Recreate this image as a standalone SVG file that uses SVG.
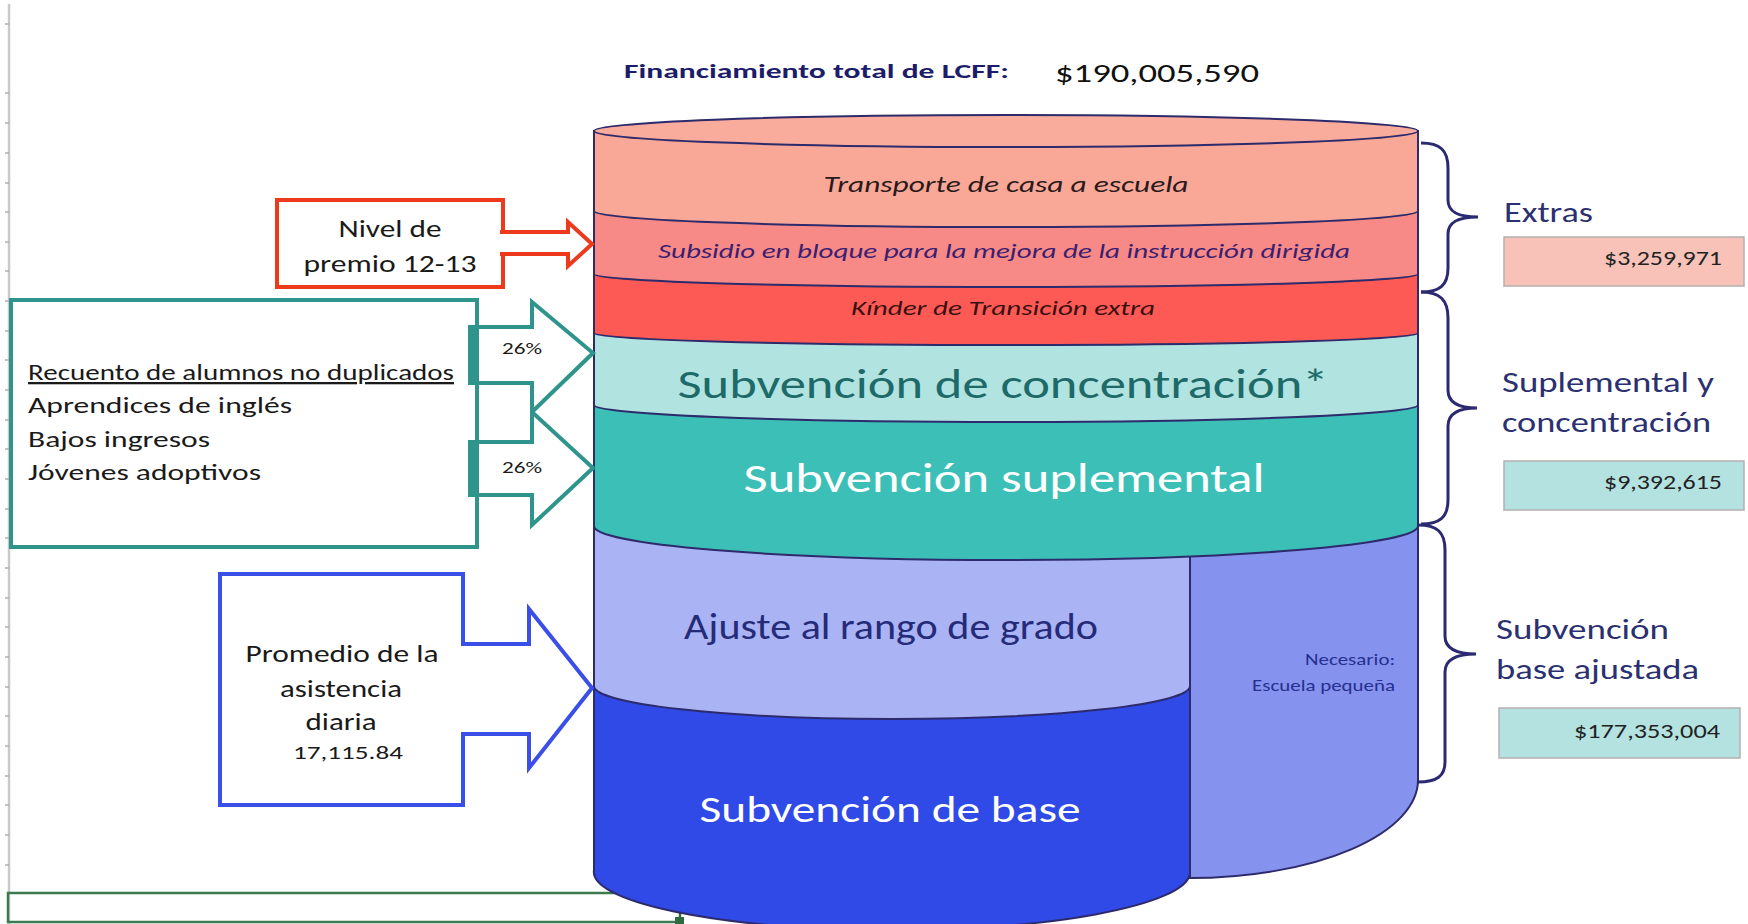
<svg xmlns="http://www.w3.org/2000/svg" width="1748" height="924" viewBox="0 0 1748 924">
<style>
text{font-family:Carlito,Lato,"Open Sans","Liberation Sans",sans-serif}
.band{stroke:#2d2b6b;stroke-width:2}
.it{font-style:italic}
.mid{text-anchor:middle}
.end{text-anchor:end}
.brace{fill:none;stroke:#2b2a70;stroke-width:3}
.lbl{fill:#2a3070;font-size:28px}
.val{font-size:20px;fill:#222;text-anchor:end}
.vbox{stroke:#b5b0b0;stroke-width:1.5}
</style>
<rect width="1748" height="924" fill="#ffffff"/>
<g id="gridline">
<line x1="9" y1="4" x2="9" y2="924" stroke="#c9c9c9" stroke-width="2.5"/>
<path d="M5,24H9M5,93H9M5,123H9M5,153H9M5,183H9M5,212H9M5,242H9M5,271H9M5,301H9M5,331H9M5,360H9M5,390H9M5,420H9M5,449H9M5,479H9M5,509H9M5,538H9M5,568H9M5,598H9M5,627H9M5,657H9M5,687H9M5,716H9M5,746H9M5,776H9M5,805H9M5,835H9M5,865H9" stroke="#b0b0b0" stroke-width="1.5"/>
</g>
<g id="selection">
<rect x="8" y="893" width="672" height="29" fill="none" stroke="#3b7b4f" stroke-width="2.5"/>
<line x1="680" y1="908" x2="680" y2="918" stroke="#2e6b3e" stroke-width="2"/>
<rect x="675" y="917" width="9" height="9" fill="#2e6b3e"/>
</g>
<g id="title">
<text x="624" y="78" font-size="21" font-weight="bold" fill="#1c1c6a" textLength="385" lengthAdjust="spacingAndGlyphs">Financiamiento total de LCFF:</text>
<text x="1055" y="82" font-size="27" fill="#111111" textLength="204" lengthAdjust="spacingAndGlyphs">$190,005,590</text>
</g>
<g id="cylinder">
<path id="necesario" class="band" fill="#8592ee" d="M1190,520 L1190,878 A228,98 0 0 0 1418,780 L1418,520 Z"/>
<path id="ajuste" class="band" fill="#aab4f4" d="M594,520 L594,740 L1190,740 L1190,520 Z"/>
<path id="base" class="band" fill="#2f4ae6" d="M594,686 A298,33 0 0 0 1190,686 L1190,874 A298,58 0 0 1 594,870 Z"/>
<path id="suplemental" class="band" fill="#3bbfb7" d="M594,403 L594,526 A412,34 0 0 0 1418,526 L1418,403 Z"/>
<path id="concentracion" class="band" fill="#b1e3e1" d="M594,331 L594,405 A412,17 0 0 0 1418,405 L1418,331 Z"/>
<path id="kinder" class="band" fill="#fe5a55" d="M594,272 L594,333 A412,12 0 0 0 1418,333 L1418,272 Z"/>
<path id="subsidio" class="band" fill="#f78a86" d="M594,209 L594,274 A412,13 0 0 0 1418,274 L1418,209 Z"/>
<path id="transporte" class="band" fill="#f9a898" d="M594,131 L594,211 A412,16 0 0 0 1418,211 L1418,131 Z"/>
<ellipse id="top" class="band" fill="#f9ab9c" cx="1006" cy="131" rx="412" ry="16"/>
<text class="it mid" x="1006" y="192" font-size="23" fill="#2a1a1a" textLength="365" lengthAdjust="spacingAndGlyphs">Transporte de casa a escuela</text>
<text class="it mid" x="1004" y="258" font-size="21" fill="#3a2070" textLength="692" lengthAdjust="spacingAndGlyphs">Subsidio en bloque para la mejora de la instrucción dirigida</text>
<text class="it mid" x="1003" y="315" font-size="21" fill="#3a1010" textLength="304" lengthAdjust="spacingAndGlyphs">Kínder de Transición extra</text>
<text class="mid" x="1003" y="398" font-size="42" fill="#1d6a68" textLength="651" lengthAdjust="spacingAndGlyphs">Subvención de concentración*</text>
<text class="mid" x="1004" y="492" font-size="42" fill="#ffffff" textLength="521" lengthAdjust="spacingAndGlyphs">Subvención suplemental</text>
<text class="mid" x="891" y="639" font-size="36" fill="#252b78" textLength="414" lengthAdjust="spacingAndGlyphs">Ajuste al rango de grado</text>
<text class="mid" x="890" y="822" font-size="36" fill="#ffffff" textLength="381" lengthAdjust="spacingAndGlyphs">Subvención de base</text>
<text class="end" x="1395" y="665" font-size="16" fill="#253090" textLength="90" lengthAdjust="spacingAndGlyphs">Necesario:</text>
<text class="end" x="1395" y="691" font-size="16" fill="#253090" textLength="143" lengthAdjust="spacingAndGlyphs">Escuela pequeña</text>
</g>
<g id="connectors">
<path d="M500,232 L568,232 L568,222 L592,244 L568,266 L568,254 L500,254" fill="#ffffff" stroke="#ee3a1c" stroke-width="4"/>
<path d="M470,327 L532,327 L532,302 L593,353 L532,412 L532,383 L470,383 Z" fill="#ffffff" stroke="#2f958c" stroke-width="4"/>
<path d="M470,442 L532,442 L532,412 L593,468 L532,525 L532,495 L470,495 Z" fill="#ffffff" stroke="#2f958c" stroke-width="4"/>
<rect x="468" y="325" width="11" height="60" fill="#2f958c"/>
<rect x="468" y="440" width="11" height="57" fill="#2f958c"/>
<path d="M461,644 L529,644 L529,609 L592,688 L529,768 L529,734 L461,734" fill="#ffffff" stroke="#3a4ee8" stroke-width="4"/>
<path class="brace" d="M1421,143 C1440,143 1448,150 1448,168 L1448,200 C1448,212 1458,217 1478,217 C1458,217 1448,222 1448,234 L1448,268 C1448,285 1440,292 1421,292"/>
<path class="brace" d="M1421,292 C1440,292 1448,300 1448,318 L1448,390 C1448,402 1458,408 1477,408 C1458,408 1448,414 1448,426 L1448,500 C1448,517 1440,524 1421,524"/>
<path class="brace" d="M1418,525 C1437,525 1445,532 1445,550 L1445,636 C1445,648 1455,654 1476,654 C1455,654 1445,660 1445,672 L1445,762 C1445,776 1437,782 1418,782"/>
</g>
<g id="nivel">
<path d="M503,232 L503,200 L277,200 L277,287 L503,287 L503,254" fill="none" stroke="#ee3a1c" stroke-width="4"/>
<text class="mid" x="390" y="237" font-size="25" fill="#1a1a1a" textLength="103" lengthAdjust="spacingAndGlyphs">Nivel de</text>
<text class="mid" x="390" y="272" font-size="25" fill="#1a1a1a" textLength="173" lengthAdjust="spacingAndGlyphs">premio 12-13</text>
</g>
<g id="recuento">
<rect x="11" y="300" width="466" height="247" fill="none" stroke="#2f958c" stroke-width="4"/>
<text x="28" y="380" font-size="23" fill="#1a1a1a" text-decoration="underline" textLength="426" lengthAdjust="spacingAndGlyphs">Recuento de alumnos no duplicados</text>
<text x="28" y="413" font-size="23" fill="#1a1a1a" textLength="264" lengthAdjust="spacingAndGlyphs">Aprendices de inglés</text>
<text x="28" y="447" font-size="23" fill="#1a1a1a" textLength="182" lengthAdjust="spacingAndGlyphs">Bajos ingresos</text>
<text x="28" y="480" font-size="23" fill="#1a1a1a" textLength="233" lengthAdjust="spacingAndGlyphs">Jóvenes adoptivos</text>
<text x="502" y="354" font-size="17" fill="#1a1a1a" textLength="40" lengthAdjust="spacingAndGlyphs">26%</text>
<text x="502" y="473" font-size="17" fill="#1a1a1a" textLength="40" lengthAdjust="spacingAndGlyphs">26%</text>
</g>
<g id="promedio">
<path d="M463,644 L463,574 L220,574 L220,805 L463,805 L463,734" fill="none" stroke="#3a4ee8" stroke-width="4"/>
<text class="mid" x="342" y="662" font-size="24" fill="#1a1a1a" textLength="193" lengthAdjust="spacingAndGlyphs">Promedio de la</text>
<text class="mid" x="341" y="697" font-size="24" fill="#1a1a1a" textLength="122" lengthAdjust="spacingAndGlyphs">asistencia</text>
<text class="mid" x="341" y="730" font-size="24" fill="#1a1a1a" textLength="71" lengthAdjust="spacingAndGlyphs">diaria</text>
<text class="mid" x="348" y="759" font-size="19" fill="#1a1a1a" textLength="110" lengthAdjust="spacingAndGlyphs">17,115.84</text>
</g>
<g id="extras">
<text class="lbl" x="1504" y="222" textLength="89" lengthAdjust="spacingAndGlyphs">Extras</text>
<rect class="vbox" x="1504" y="237" width="240" height="49" fill="#f8c2b8"/>
<text class="val" x="1722" y="265" textLength="118" lengthAdjust="spacingAndGlyphs">$3,259,971</text>
</g>
<g id="suplemental-concentracion">
<text class="lbl" x="1502" y="392" textLength="212" lengthAdjust="spacingAndGlyphs">Suplemental y</text>
<text class="lbl" x="1502" y="432" textLength="209" lengthAdjust="spacingAndGlyphs">concentración</text>
<rect class="vbox" x="1504" y="461" width="240" height="49" fill="#b3e2e1"/>
<text class="val" x="1722" y="489" textLength="118" lengthAdjust="spacingAndGlyphs">$9,392,615</text>
</g>
<g id="base-ajustada">
<text class="lbl" x="1496" y="639" textLength="173" lengthAdjust="spacingAndGlyphs">Subvención</text>
<text class="lbl" x="1496" y="679" textLength="203" lengthAdjust="spacingAndGlyphs">base ajustada</text>
<rect class="vbox" x="1499" y="708" width="241" height="50" fill="#b3e2e1"/>
<text class="val" x="1720" y="738" textLength="146" lengthAdjust="spacingAndGlyphs">$177,353,004</text>
</g>
</svg>
